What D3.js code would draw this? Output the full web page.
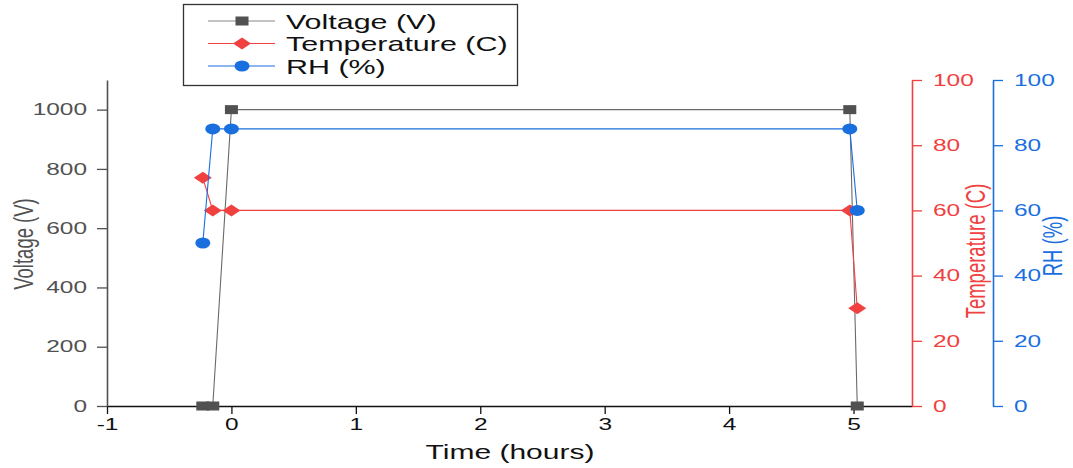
<!DOCTYPE html>
<html lang="en">
<head>
<meta charset="UTF-8">
<title>Voltage, Temperature and RH vs Time</title>
<script src="https://cdn.jsdelivr.net/npm/d3@7"></script>
<style>
    body { margin: 0; background: #fff; }
    text { font-family: Arial, "Liberation Sans", sans-serif; }
</style>
</head>
<body>
<svg id="chart" width="1073" height="468"></svg>
<script>
    // values
    const timeHours = [-0.23, -0.15, 0, 4.97, 5.03];
    const voltage = [0, 0, 1000, 1000, 0];
    const temperature = [70, 60, 60, 60, 30];
    const rh = [50, 85, 85, 85, 60];

    const xTicks = [-1, 0, 1, 2, 3, 4, 5];
    const voltTicks = [0, 200, 400, 600, 800, 1000];
    const pctTicks = [0, 20, 40, 60, 80, 100];

    const GRAY = "#515151", RED = "#F14040", BLUE = "#1A6FDF";
    const SX = 1.5; // the whole picture is stretched sideways
    const plain = d => String(d); // keeps "-1" and "1000" as in the original

    const svg = d3.select("#chart");

    const x = d3.scaleLinear().domain([-1, 5.47]).range([107, 912]);
    const yV = d3.scaleLinear().domain([0, 1100]).range([406, 80]);
    const yT = d3.scaleLinear().domain([0, 100]).range([406, 80]);
    const yRH = d3.scaleLinear().domain([0, 100]).range([406, 80]);

    function styleAxis(g, color) {
        g.select(".domain").attr("stroke", color).attr("stroke-width", 1.6);
        g.selectAll(".tick line").attr("stroke", color).attr("stroke-width", 1.3);
        g.selectAll(".tick text").attr("fill", color).style("font-size", "16.3px");
    }

    // bottom axis
    const gx = svg.append("g").attr("transform", "translate(0,406)");
    gx.call(d3.axisBottom(x).tickValues(d3.range(-1, 5.01, 0.5)).tickSize(5).tickSizeOuter(0).tickFormat(""));
    gx.call(d3.axisBottom(x).tickValues(xTicks).tickSize(8).tickSizeOuter(0).tickFormat(plain));
    styleAxis(gx, "#111");
    gx.selectAll(".tick text").attr("y", 12).attr("transform", `scale(${SX},1)`);

    // left axis (voltage)
    const gl = svg.append("g").attr("transform", "translate(107,0)");
    gl.call(d3.axisLeft(yV).tickValues(d3.range(0, 1101, 100)).tickSize(5).tickSizeOuter(0).tickFormat(""));
    gl.call(d3.axisLeft(yV).tickValues(voltTicks).tickSize(10).tickSizeOuter(0).tickFormat(plain));
    styleAxis(gl, GRAY);
    gl.selectAll(".tick text").attr("x", -20 / SX).attr("transform", `scale(${SX},1)`);

    // right axes
    function rightAxis(scale, xPos, color) {
        const g = svg.append("g").attr("transform", `translate(${xPos},0)`);
        g.call(d3.axisRight(scale).tickValues(d3.range(0, 101, 10)).tickSize(6).tickSizeOuter(0).tickFormat(""));
        g.call(d3.axisRight(scale).tickValues(pctTicks).tickSize(10).tickSizeOuter(0).tickFormat(plain));
        styleAxis(g, color);
        g.selectAll(".tick text").attr("x", 21 / SX).attr("transform", `scale(${SX},1)`);
    }
    rightAxis(yT, 912, RED);
    rightAxis(yRH, 993, BLUE);

    // axis titles
    function title(txt, tx, ty, rot, color, size) {
        svg.append("text")
            .attr("transform", `translate(${tx},${ty}) scale(${SX},1)` + (rot ? " rotate(-90)" : ""))
            .attr("text-anchor", "middle")
            .attr("fill", color)
            .style("font-size", size + "px")
            .text(txt);
    }
    title("Time (hours)", 510, 459, false, "#111", 20);
    title("Voltage (V)", 33, 244, true, GRAY, 18.5);
    title("Temperature (C)", 985, 251, true, RED, 18.5);
    title("RH (%)", 1062, 246, true, BLUE, 18.5);

    // marker shapes
    function drawMarker(g, kind, color, cx, cy) {
        if (kind === "square") {
            g.append("rect").attr("x", cx - 6.5).attr("y", cy - 4.5).attr("width", 13).attr("height", 9).attr("fill", color);
        } else if (kind === "diamond") {
            g.append("path").attr("d", `M${cx},${cy - 6}L${cx + 9},${cy}L${cx},${cy + 6}L${cx - 9},${cy}Z`).attr("fill", color);
        } else {
            g.append("ellipse").attr("cx", cx).attr("cy", cy).attr("rx", 7.5).attr("ry", 5.5).attr("fill", color);
        }
    }

    const series = [
        { name: "Voltage (V)", values: voltage, scale: yV, color: GRAY, line: "#6a6a6a", marker: "square" },
        { name: "Temperature (C)", values: temperature, scale: yT, color: RED, line: RED, marker: "diamond" },
        { name: "RH (%)", values: rh, scale: yRH, color: BLUE, line: BLUE, marker: "circle" }
    ];

    series.forEach(s => {
        const pts = timeHours.map((t, i) => [x(t), s.scale(s.values[i])]);
        const g = svg.append("g");
        g.append("path")
            .attr("d", d3.line()(pts))
            .attr("fill", "none")
            .attr("stroke", s.line)
            .attr("stroke-width", 1.1);
        pts.forEach(p => drawMarker(g, s.marker, s.color, p[0], p[1]));
    });

    // legend
    const lg = svg.append("g");
    lg.append("rect").attr("x", 183.5).attr("y", 4.5).attr("width", 334).attr("height", 81)
        .attr("fill", "#fff").attr("stroke", "#333").attr("stroke-width", 1.3);
    series.forEach((s, i) => {
        const cy = 21 + i * 22.5;
        lg.append("line").attr("x1", 208).attr("x2", 275).attr("y1", cy).attr("y2", cy)
            .attr("stroke", s.line === "#6a6a6a" ? "#888" : s.line).attr("stroke-width", 1.1);
        drawMarker(lg, s.marker, s.color, 242, cy);
        lg.append("text")
            .attr("transform", `translate(286,${cy + 7.5}) scale(${SX},1)`)
            .attr("fill", "#111")
            .style("font-size", "20.3px")
            .text(s.name);
    });
</script>
</body>
</html>
